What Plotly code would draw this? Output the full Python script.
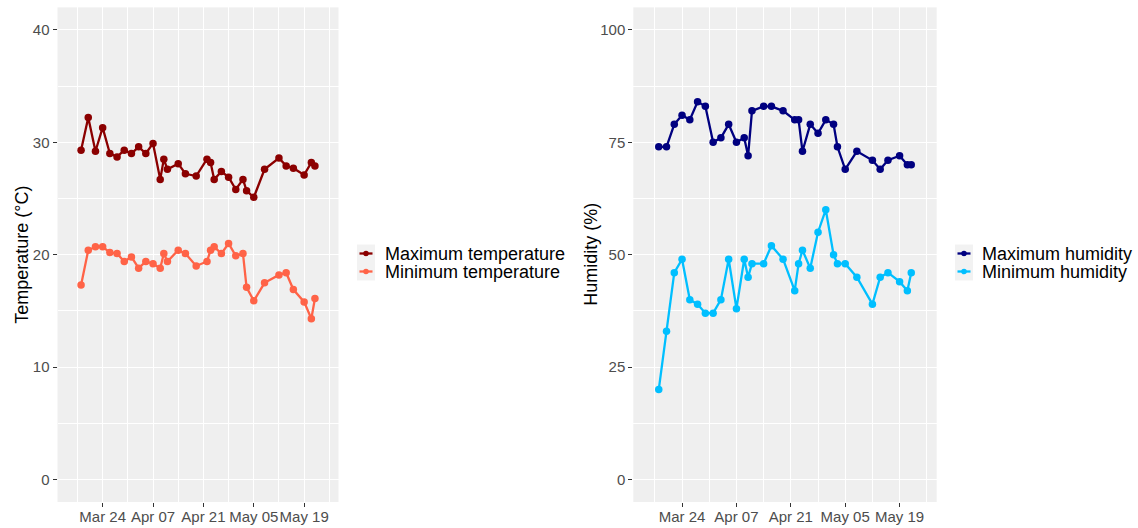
import plotly.graph_objects as go

dates = ["2021-03-18", "2021-03-20", "2021-03-22", "2021-03-24", "2021-03-26", "2021-03-28",
         "2021-03-30", "2021-04-01", "2021-04-03", "2021-04-05", "2021-04-07", "2021-04-09",
         "2021-04-10", "2021-04-11", "2021-04-14", "2021-04-16", "2021-04-19", "2021-04-22",
         "2021-04-23", "2021-04-24", "2021-04-26", "2021-04-28", "2021-04-30", "2021-05-02",
         "2021-05-03", "2021-05-05", "2021-05-08", "2021-05-12", "2021-05-14", "2021-05-16",
         "2021-05-19", "2021-05-21", "2021-05-22"]

max_temp = [29.3, 32.2, 29.2, 31.3, 29.0, 28.7, 29.3, 29.0, 29.6, 29.0, 29.9, 26.7, 28.5,
            27.6, 28.1, 27.2, 27.0, 28.5, 28.2, 26.7, 27.4, 26.9, 25.8, 26.7, 25.7, 25.1,
            27.6, 28.6, 27.9, 27.7, 27.1, 28.2, 27.9]
min_temp = [17.3, 20.4, 20.7, 20.7, 20.2, 20.1, 19.4, 19.8, 18.8, 19.4, 19.2, 18.8, 20.1,
            19.4, 20.4, 20.1, 19.0, 19.4, 20.4, 20.7, 20.1, 21.0, 19.9, 20.1, 17.1, 15.9,
            17.5, 18.2, 18.4, 16.9, 15.8, 14.3, 16.1]
max_hum = [74, 74, 79, 81, 80, 84, 83, 75, 76, 79, 75, 76, 72, 82, 83, 83, 82, 80, 80, 73,
           79, 77, 80, 79, 74, 69, 73, 71, 69, 71, 72, 70, 70]
min_hum = [20, 33, 46, 49, 40, 39, 37, 37, 40, 49, 38, 49, 45, 48, 48, 52, 49, 42, 48, 51,
           47, 55, 60, 50, 48, 48, 45, 39, 45, 46, 44, 42, 46]

x_ticks = ["2021-03-24", "2021-04-07", "2021-04-21", "2021-05-05", "2021-05-19"]
x_ticktext = ["Mar 24", "Apr 07", "Apr 21", "May 05", "May 19"]
x_minor = ["2021-03-17", "2021-03-31", "2021-04-14", "2021-04-28", "2021-05-12", "2021-05-26"]
x_range = ["2021-03-11 10:48", "2021-05-28 13:12"]

temp_ticks = [0, 10, 20, 30, 40]
temp_minor = [5, 15, 25, 35]
hum_ticks = [0, 25, 50, 75, 100]
hum_minor = [12.5, 37.5, 62.5, 87.5]

temp_names = ["Maximum temperature", "Minimum temperature"]
hum_names = ["Maximum humidity", "Minimum humidity"]
temp_colors = ["#8B0000", "#FF6347"]
hum_colors = ["#000080", "#00BFFF"]

FONT = "Liberation Sans, Arial, sans-serif"
BG = "#EFEFEF"
W, H = 1138, 528


def px(v):
    return v / W


def py(v):
    return 1 - v / H


fig = go.Figure()

for name, vals, col in zip(temp_names, [max_temp, min_temp], temp_colors):
    fig.add_trace(go.Scatter(x=dates, y=vals, name=name, mode="lines+markers",
                             line=dict(color=col, width=2.3), marker=dict(color=col, size=7.5),
                             xaxis="x", yaxis="y", showlegend=False))
for name, vals, col in zip(hum_names, [max_hum, min_hum], hum_colors):
    fig.add_trace(go.Scatter(x=dates, y=vals, name=name, mode="lines+markers",
                             line=dict(color=col, width=2.3), marker=dict(color=col, size=7.5),
                             xaxis="x2", yaxis="y2", showlegend=False))

xcommon = dict(
    type="date", range=x_range, tickmode="array", tickvals=x_ticks, ticktext=x_ticktext,
    showgrid=True, gridcolor="white", gridwidth=1.1, zeroline=False, tickangle=0,
    ticks="outside", ticklen=4, tickcolor="#333333", tickwidth=1, ticklabelstandoff=-3,
    tickfont=dict(family=FONT, size=15, color="#4D4D4D"),
    minor=dict(tickvals=x_minor, showgrid=True, gridcolor="white", gridwidth=0.55, ticks=""),
    showline=False, fixedrange=True, automargin=False,
)
ycommon = dict(
    showgrid=True, gridcolor="white", gridwidth=1.1, zeroline=False,
    ticks="outside", ticklen=4, tickcolor="#333333", tickwidth=1,
    tickfont=dict(family=FONT, size=15, color="#4D4D4D"),
    showline=False, fixedrange=True, automargin=False,
)

ydom = [py(502), py(7.4)]
ymid = (ydom[0] + ydom[1]) / 2

annotations = [
    dict(text="Temperature (°C)", x=px(22), y=ymid, xref="paper", yref="paper",
         textangle=-90, xanchor="center", yanchor="middle", showarrow=False,
         font=dict(family=FONT, size=18, color="black")),
    dict(text="Humidity (%)", x=px(591), y=ymid, xref="paper", yref="paper",
         textangle=-90, xanchor="center", yanchor="middle", showarrow=False,
         font=dict(family=FONT, size=18, color="black")),
]
shapes = []

# custom legends (ggplot-style keys)
legend_specs = [
    (temp_names, temp_colors, 357, 383),
    (hum_names, hum_colors, 955, 980),
]
row_y = [253.5, 271.5]
for names, cols, key_left, text_left in legend_specs:
    shapes.append(dict(type="rect", xref="paper", yref="paper",
                       x0=px(key_left), x1=px(key_left + 18),
                       y0=py(row_y[0] - 9), y1=py(row_y[1] + 9),
                       fillcolor="#F2F2F2", line=dict(width=0), layer="below"))
    for name, col, ry in zip(names, cols, row_y):
        shapes.append(dict(type="line", xref="paper", yref="paper",
                           x0=px(key_left + 2.5), x1=px(key_left + 15.5), y0=py(ry), y1=py(ry),
                           line=dict(color=col, width=2.3)))
        shapes.append(dict(type="circle", xref="paper", yref="paper",
                           x0=px(key_left + 9 - 2.8), x1=px(key_left + 9 + 2.8),
                           y0=py(ry + 2.8), y1=py(ry - 2.8),
                           fillcolor=col, line=dict(width=0)))
        annotations.append(dict(text=name, x=px(text_left), y=py(ry), xref="paper", yref="paper",
                                xanchor="left", yanchor="middle", showarrow=False,
                                font=dict(family=FONT, size=18, color="black")))

fig.update_layout(
    width=W, height=H,
    margin=dict(l=0, r=0, t=0, b=0, autoexpand=False),
    paper_bgcolor="white", plot_bgcolor=BG,
    font=dict(family=FONT),
    xaxis=dict(xcommon, domain=[px(57.5), px(338.5)], anchor="y"),
    yaxis=dict(ycommon, domain=ydom, anchor="x", range=[-2, 42],
               tickmode="array", tickvals=temp_ticks,
               minor=dict(tickvals=temp_minor, showgrid=True, gridcolor="white", gridwidth=0.55, ticks="")),
    xaxis2=dict(xcommon, domain=[px(633.3), px(936.7)], anchor="y2"),
    yaxis2=dict(ycommon, domain=ydom, anchor="x2", range=[-5, 105],
                tickmode="array", tickvals=hum_ticks,
                minor=dict(tickvals=hum_minor, showgrid=True, gridcolor="white", gridwidth=0.55, ticks="")),
    showlegend=False,
    annotations=annotations,
    shapes=shapes,
)

fig.write_html("out.html")
